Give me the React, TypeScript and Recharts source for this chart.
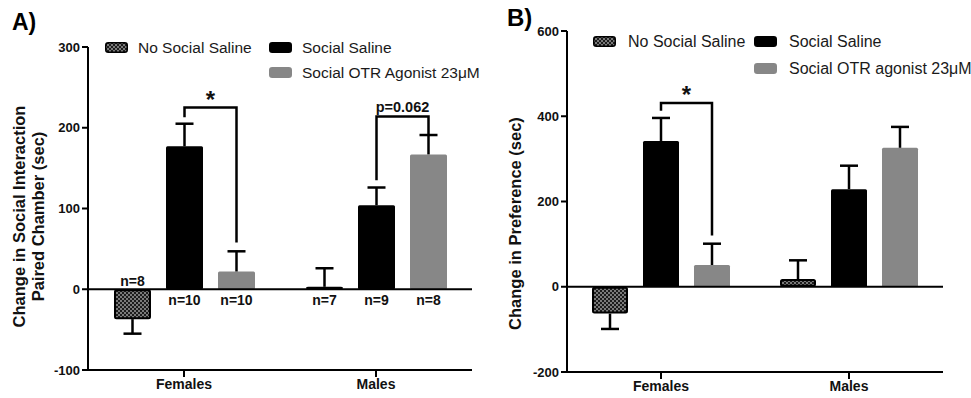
import React from 'react';
import { BarChart, Bar, XAxis, YAxis, ReferenceLine, LabelList, Legend } from 'recharts';

const FONT = '"Liberation Sans", Arial, Helvetica, sans-serif';

const categories = ['Females', 'Males'];
const legendNamesA = ['No Social Saline', 'Social Saline', 'Social OTR Agonist 23\u03bcM'];
const legendNamesB = ['No Social Saline', 'Social Saline', 'Social OTR agonist 23\u03bcM'];

// panel A: change in social interaction, paired chamber (sec)
const noSocialA = [-37, 3];
const noSocialErrA = [18, 23];
const socialSalineA = [177, 104];
const socialSalineErrA = [28, 22];
const otrA = [22, 167];
const otrErrA = [25, 24];
const noSocialNA = [8, 7];
const socialSalineNA = [10, 9];
const otrNA = [10, 8];
const ticksA = [-100, 0, 100, 200, 300];

// panel B: change in preference (sec)
const noSocialB = [-63, 18];
const noSocialErrB = [36, 44];
const socialSalineB = [342, 229];
const socialSalineErrB = [54, 55];
const otrB = [51, 326];
const otrErrB = [50, 49];
const ticksB = [-200, 0, 200, 400, 600];

// significance brackets, from the Social Saline bar to the OTR bar of a group
const bracketsA = [
  { group: 0, top: 225, leftEnd: 213, rightEnd: 58, label: '*' },
  { group: 1, top: 214, leftEnd: 135, rightEnd: 191, label: 'p=0.062' },
];
const bracketsB = [{ group: 0, top: 431, leftEnd: 413, rightEnd: 120, label: '*' }];

const seriesStyles = [
  { fill: 'url(#checker)', stroke: '#000' },
  { fill: '#000', stroke: 'none' },
  { fill: '#878787', stroke: 'none' },
];
const legendSlots = [
  [0, 0],
  [1, 0],
  [1, 1],
];

const BAR_GAP = 15;
const Y_AXIS_W = 60;
const X_AXIS_H = 25;

function buildRows(vals: number[][], errs: number[][], ns?: number[][]) {
  return categories.map((cat, i) => {
    const row: any = { cat };
    vals.forEach((v, s) => {
      row[`v${s}`] = v[i];
      row[`e${s}`] = errs[s][i];
      if (ns) row[`n${s}`] = ns[s][i];
    });
    return row;
  });
}

const rowsA = buildRows(
  [noSocialA, socialSalineA, otrA],
  [noSocialErrA, socialSalineErrA, otrErrA],
  [noSocialNA, socialSalineNA, otrNA],
);
const rowsB = buildRows([noSocialB, socialSalineB, otrB], [noSocialErrB, socialSalineErrB, otrErrB]);

// bar plus one-sided error whisker (and bracket), scale taken from the bar the library drew
const barShape = (rows: any[], s: number, brackets: any[]) => (props: any) => {
  const { x, y, width, height, index } = props;
  const row = props.payload ?? rows[index];
  const v = row[`v${s}`];
  const e = row[`e${s}`];
  const top = Math.min(y, y + height);
  const bottom = Math.max(y, y + height);
  const h = bottom - top;
  const ppu = v !== 0 ? h / Math.abs(v) : 0;
  const cx = x + width / 2;
  const edge = v >= 0 ? top : bottom;
  const tip = v >= 0 ? top - e * ppu : bottom + e * ppu;
  const y0 = v >= 0 ? bottom : top;
  const yOf = (val: number) => y0 - val * ppu;
  const st = seriesStyles[s];
  const hasStroke = st.stroke !== 'none';
  const b = s === 1 ? brackets.find((k) => k.group === index) : null;
  const x2 = cx + width + BAR_GAP;
  const big = b && b.label === '*';
  return (
    <g>
      <rect
        x={hasStroke ? x + 1 : x}
        y={hasStroke ? top + 1 : top}
        width={hasStroke ? width - 2 : width}
        height={hasStroke ? Math.max(h - 2, 0.5) : h}
        rx={1.5}
        fill={st.fill}
        stroke={st.stroke}
        strokeWidth={2}
      />
      <line x1={cx} x2={cx} y1={edge} y2={tip} stroke="#000" strokeWidth={2.5} />
      <line x1={cx - 9} x2={cx + 9} y1={tip} y2={tip} stroke="#000" strokeWidth={2.5} />
      {b && (
        <g>
          <path
            d={`M${cx},${yOf(b.leftEnd)}V${yOf(b.top)}H${x2}V${yOf(b.rightEnd)}`}
            fill="none"
            stroke="#000"
            strokeWidth={2.5}
          />
          <text
            x={(cx + x2) / 2}
            y={yOf(b.top) - (big ? 0 : 4)}
            textAnchor="middle"
            fontSize={big ? 24 : 14.5}
            fontWeight="bold"
            fontFamily={FONT}
            fill="#111"
          >
            {b.label}
          </text>
        </g>
      )}
    </g>
  );
};

const nLabel = (rows: any[], s: number) => (props: any) => {
  const vb = props.viewBox ?? props;
  const { x, y, width, height } = vb;
  const row = rows[props.index];
  const v = row[`v${s}`];
  const top = Math.min(y, y + height);
  const bottom = Math.max(y, y + height);
  const cy = v >= 0 ? bottom + 11 : top - 8;
  return (
    <text
      x={x + width / 2}
      y={cy}
      textAnchor="middle"
      dominantBaseline="central"
      fontSize={14}
      fontWeight="bold"
      fontFamily={FONT}
      fill="#111"
    >
      {`n=${props.value}`}
    </text>
  );
};

const yLabel = (lines: string[], xs: number[], dy: number, fontSize: number) => (props: any) => {
  const vb = props.viewBox;
  const cy = vb.y + vb.height / 2 + dy;
  return (
    <g>
      {lines.map((t, i) => {
        const cx = vb.x + xs[i];
        return (
          <text
            key={i}
            x={cx}
            y={cy}
            transform={`rotate(-90 ${cx} ${cy})`}
            textAnchor="middle"
            dominantBaseline="central"
            fontSize={fontSize}
            fontWeight="bold"
            fontFamily={FONT}
            fill="#111"
          >
            {t}
          </text>
        );
      })}
    </g>
  );
};

function LegendBlock({ names, colX, rowY, textDx, fontSize }: any) {
  return (
    <div style={{ position: 'relative', fontFamily: FONT, fontSize, color: '#1a1a1a' }}>
      {names.map((name: string, i: number) => {
        const [c, r] = legendSlots[i];
        const st = seriesStyles[i];
        return (
          <div
            key={name}
            style={{
              position: 'absolute',
              left: colX[c],
              top: rowY[r],
              height: 11,
              display: 'flex',
              alignItems: 'center',
              whiteSpace: 'nowrap',
            }}
          >
            <svg width={23} height={11} style={{ marginRight: textDx - 23, flex: 'none' }}>
              <rect
                x={0.75}
                y={0.75}
                width={21.5}
                height={9.5}
                rx={2.5}
                fill={st.fill}
                stroke={st.stroke === 'none' ? st.fill : '#000'}
                strokeWidth={1.5}
              />
            </svg>
            <span style={{ lineHeight: '11px' }}>{name}</span>
          </div>
        );
      })}
    </div>
  );
}

function Panel(p: any) {
  const axisStyle = { stroke: '#000', strokeWidth: 2 };
  return (
    <div style={{ position: 'absolute', left: p.left, top: 0 }}>
      <BarChart
        width={p.width}
        height={398}
        data={p.rows}
        margin={p.margin}
        barGap={BAR_GAP}
        barSize={p.barSize}
        style={{ fontFamily: FONT }}
      >
        <XAxis
          dataKey="cat"
          height={X_AXIS_H}
          axisLine={axisStyle}
          tickLine={axisStyle}
          tickSize={7}
          tickMargin={2}
          tick={{ fill: '#111', fontSize: 14, fontWeight: 'bold', fontFamily: FONT }}
        />
        <YAxis
          type="number"
          width={Y_AXIS_W}
          domain={p.domain}
          ticks={p.ticks}
          interval={0}
          allowDataOverflow
          axisLine={axisStyle}
          tickLine={axisStyle}
          tickSize={6}
          tickMargin={2}
          tick={{ fill: '#111', fontSize: 13, fontWeight: 'bold', fontFamily: FONT }}
          label={yLabel(p.yLabelLines, p.yLabelXs, p.yLabelDy, p.yLabelSize)}
        />
        <Legend
          layout="horizontal"
          verticalAlign="middle"
          align="center"
          wrapperStyle={{ top: p.legendTop, left: p.legendLeft, width: 380, height: 40 }}
          content={() => (
            <LegendBlock
              names={p.legendNames}
              colX={p.legendColX}
              rowY={p.legendRowY}
              textDx={p.legendTextDx}
              fontSize={p.legendFontSize}
            />
          )}
        />
        <ReferenceLine y={0} stroke="#000" strokeWidth={2} />
        {[0, 1, 2].map((s) => (
          <Bar
            key={s}
            dataKey={`v${s}`}
            name={p.legendNames[s]}
            fill={seriesStyles[s].fill}
            shape={barShape(p.rows, s, p.brackets)}
            isAnimationActive={false}
          >
            {p.showN && <LabelList dataKey={`n${s}`} content={nLabel(p.rows, s)} />}
          </Bar>
        ))}
      </BarChart>
    </div>
  );
}

export default function App() {
  return (
    <div style={{ position: 'absolute', left: 0, top: 0, width: 971, height: 398, background: '#fff' }}>
      <svg
        width={971}
        height={398}
        style={{ position: 'absolute', left: 0, top: 0, pointerEvents: 'none', zIndex: 2 }}
      >
        <defs>
          <pattern id="checker" width={4} height={4} patternUnits="userSpaceOnUse">
            <rect width={4} height={4} fill="#1c1c1c" />
            <rect width={2} height={2} fill="#7a7a7a" />
            <rect x={2} y={2} width={2} height={2} fill="#7a7a7a" />
          </pattern>
        </defs>
        <text x={12} y={30} fontSize={23} fontWeight="bold" fontFamily={FONT} fill="#000">
          A)
        </text>
        <text x={507} y={26} fontSize={24} fontWeight="bold" fontFamily={FONT} fill="#000">
          B)
        </text>
      </svg>
      <Panel
        left={0}
        width={480}
        rows={rowsA}
        margin={{ top: 47, right: 8, bottom: 28 - X_AXIS_H, left: 88 - Y_AXIS_W }}
        barSize={37}
        domain={[-100, 300]}
        ticks={ticksA}
        brackets={bracketsA}
        showN
        yLabelLines={['Change in Social Interaction', 'Paired Chamber (sec)']}
        yLabelXs={[-9, 10]}
        yLabelDy={8}
        yLabelSize={16.5}
        legendNames={legendNamesA}
        legendTop={42}
        legendLeft={105}
        legendColX={[0, 164]}
        legendRowY={[0, 24.5]}
        legendTextDx={33}
        legendFontSize={15.5}
      />
      <Panel
        left={480}
        width={491}
        rows={rowsB}
        margin={{ top: 31, right: 28, bottom: 26 - X_AXIS_H, left: 87 - Y_AXIS_W }}
        barSize={36}
        domain={[-200, 600]}
        ticks={ticksB}
        brackets={bracketsB}
        showN={false}
        yLabelLines={['Change in Preference (sec)']}
        yLabelXs={[8]}
        yLabelDy={22}
        yLabelSize={16.5}
        legendNames={legendNamesB}
        legendTop={36}
        legendLeft={113}
        legendColX={[0, 161]}
        legendRowY={[0, 26.5]}
        legendTextDx={35}
        legendFontSize={16}
      />
    </div>
  );
}
